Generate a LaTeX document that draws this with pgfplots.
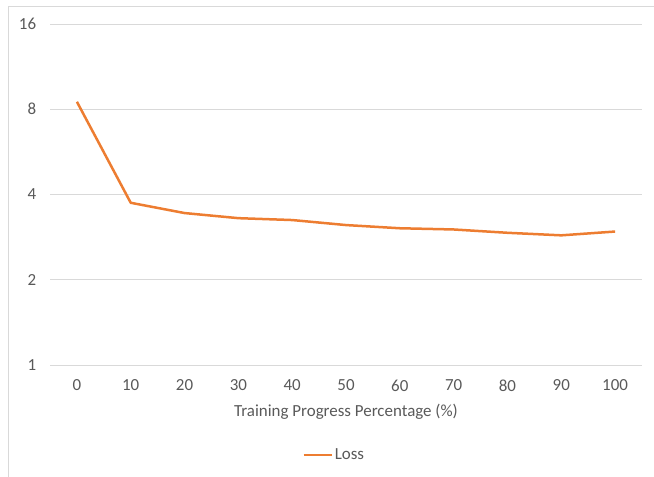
\documentclass[border=0pt]{standalone}
\usepackage{pgfplots}
\pgfplotsset{compat=1.18}
\usepackage{fontspec}
\setmainfont{Carlito}
\definecolor{lossorange}{HTML}{ED7D31}
\definecolor{txtgray}{HTML}{595959}
\definecolor{gridgray}{HTML}{D9D9D9}
\begin{document}
\fontsize{17}{19}\selectfont
\begin{tikzpicture}
\path[use as bounding box] (0,0) rectangle (654bp,477bp);
\draw[gridgray, line width=1bp] (8bp,0) -- (8bp,470bp) -- (654bp,470bp);
\begin{axis}[
  at={(50bp,112bp)}, anchor=south west,
  scale only axis,
  width=592bp, height=341bp,
  xmin=-0.5, xmax=10.5,
  ymode=log, log basis y=2,
  ymin=1, ymax=16,
  xtick={0,1,...,10},
  xticklabels={0,10,20,30,40,50,60,70,80,90,100},
  ytick={1,2,4,8,16},
  yticklabels={1,2,4,8,16},
  /pgf/number format/assume math mode=true,
  ymajorgrids,
  grid style={gridgray, line width=0.8bp},
  axis line style={draw=none},
  major tick length=0pt,
  tick label style={font=\fontsize{17}{19}\selectfont, text=txtgray},
  xticklabel style={yshift=-9bp},
  yticklabel style={xshift=-8bp},
  xlabel={Training Progress Percentage (\%)},
  xlabel style={font=\fontsize{17}{19}\selectfont, text=txtgray, yshift=-1bp},
  legend style={at={(0.48,-0.264)}, anchor=center, draw=none,
    font=\fontsize{17}{19}\selectfont, text=txtgray},
  legend image code/.code={\draw[#1] (0bp,0bp) -- (28bp,0bp);},
  clip=false,
]
\addplot[lossorange, line width=2.5bp, line join=round] coordinates {
  (0,8.50) (1,3.74) (2,3.44) (3,3.30) (4,3.25) (5,3.12)
  (6,3.04) (7,3.01) (8,2.93) (9,2.87) (10,2.96)
};
\addlegendentry{Loss}
\end{axis}
\end{tikzpicture}
\end{document}
